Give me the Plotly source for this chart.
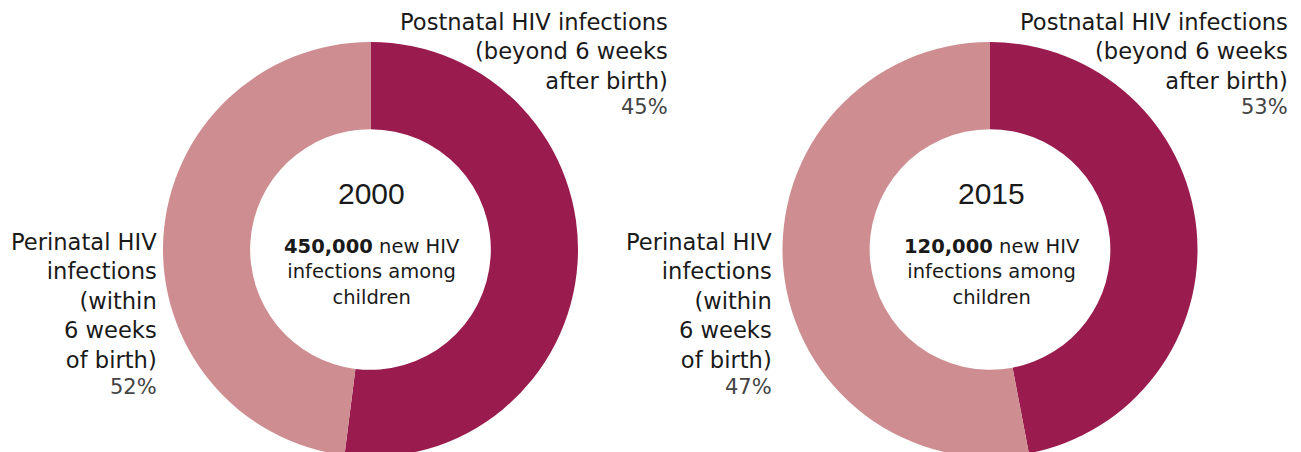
import plotly.graph_objects as go

years = ["2000", "2015"]
totals = ["450,000", "120,000"]
# slice shares as drawn (dark slice from 12 o'clock clockwise, light remainder)
dark_share = [52, 47]
light_share = [48, 53]
postnatal_label_pct = ["45%", "53%"]
perinatal_label_pct = ["52%", "47%"]
slice_names = ["Perinatal HIV infections", "Postnatal HIV infections"]

DARK = "#9A1B4E"
LIGHT = "#CE8D90"

W, H = 1301, 460
OFF = 8  # page body margin
centers_x = [370.5, 990.0]
center_y = 249.5
R = 207.5

fig = go.Figure()
for i in range(2):
    cx = centers_x[i] - OFF
    cy = center_y - OFF
    fig.add_trace(go.Pie(
        values=[dark_share[i], light_share[i]],
        labels=slice_names,
        marker=dict(colors=[DARK, LIGHT], line=dict(width=0)),
        hole=0.58,
        sort=False,
        direction="clockwise",
        rotation=0,
        textinfo="none",
        hoverinfo="label+value",
        showlegend=False,
        domain=dict(x=[(cx - R) / W, (cx + R) / W],
                    y=[1 - (cy + R) / H, 1 - (cy - R) / H]),
    ))

def px(x):
    return (x - OFF) / W

def py(y):
    return 1 - (y - OFF) / H

ann = []
LAB_FONT = dict(family="DejaVu Sans", size=22.6, color="#1a1a1a")
PCT_FONT = dict(family="DejaVu Sans", size=21, color="#444444")
label_right = [670, 1290]
peri_right = [159, 774]
for i in range(2):
    cx = centers_x[i]
    ann.append(dict(x=px(label_right[i]), y=py(51), xref="paper", yref="paper",
                    text="Postnatal HIV infections<br>(beyond 6 weeks<br>after birth)",
                    xanchor="right", yanchor="middle", align="right",
                    showarrow=False, font=LAB_FONT))
    ann.append(dict(x=px(label_right[i]), y=py(107), xref="paper", yref="paper",
                    text=postnatal_label_pct[i], xanchor="right", yanchor="middle",
                    showarrow=False, font=PCT_FONT))
    ann.append(dict(x=px(peri_right[i]), y=py(301), xref="paper", yref="paper",
                    text="Perinatal HIV<br>infections<br>(within<br>6 weeks<br>of birth)",
                    xanchor="right", yanchor="middle", align="right",
                    showarrow=False, font=LAB_FONT))
    ann.append(dict(x=px(peri_right[i]), y=py(387), xref="paper", yref="paper",
                    text=perinatal_label_pct[i], xanchor="right", yanchor="middle",
                    showarrow=False, font=PCT_FONT))
    ann.append(dict(x=px(cx + 1), y=py(193), xref="paper", yref="paper",
                    text=years[i], xanchor="center", yanchor="middle",
                    showarrow=False,
                    font=dict(family="Liberation Sans", size=30, color="#1a1a1a")))
    ann.append(dict(x=px(cx + 2), y=py(272), xref="paper", yref="paper",
                    text=f"<b>{totals[i]}</b> new HIV<br>infections among<br>children",
                    xanchor="center", yanchor="middle", align="center",
                    showarrow=False,
                    font=dict(family="DejaVu Sans", size=19.5, color="#1a1a1a")))

fig.update_layout(
    width=W, height=H,
    margin=dict(l=0, r=0, t=0, b=0),
    paper_bgcolor="white", plot_bgcolor="white",
    annotations=ann,
)

fig.write_html("out.html")
